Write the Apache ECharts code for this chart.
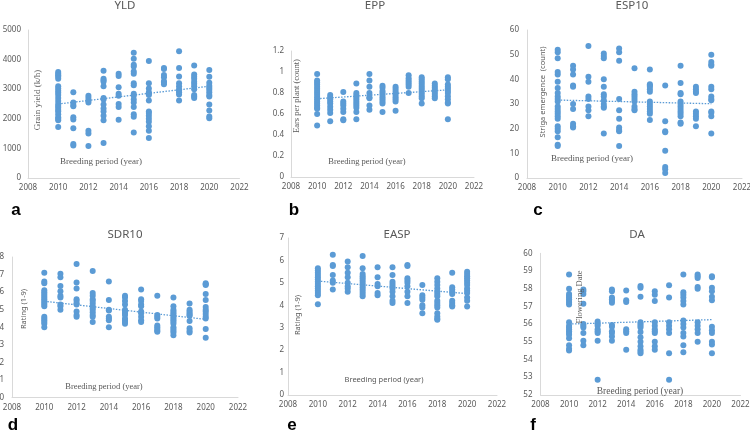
<!DOCTYPE html>
<html>
<head>
<meta charset="utf-8">
<script src="https://cdn.jsdelivr.net/npm/echarts@6/dist/echarts.min.js"></script>
<style>
  html, body { margin: 0; padding: 0; background: #fff; }
  #chart { width: 750px; height: 430px; }
</style>
</head>
<body>
<div id="chart"></div>
<script>
var years = [2010, 2011, 2012, 2013, 2014, 2015, 2016, 2017, 2018, 2019, 2020];
var trendYears = [2010, 2020];
var xTicks = { min: 2008, max: 2022, interval: 2 };

// a - YLD, grain yield
var yldValues = [
  [3580, 3520, 3470, 3420, 3350, 3100, 3020, 2950, 2880, 2800, 2700, 2600, 2500, 2430, 2370, 2300, 2250, 2150, 2050, 2000, 1950, 1720],
  [2900, 2550, 2470, 2420, 2050, 1980, 1680, 1150, 1100],
  [2780, 2700, 2620, 2550, 1600, 1500, 1080],
  [3620, 3350, 3300, 3250, 3100, 2700, 2650, 2480, 2350, 2250, 2100, 1950, 1180],
  [3520, 3450, 3070, 2850, 2780, 2500, 2400, 1970],
  [4230, 4030, 3830, 3770, 3600, 3520, 3200, 3130, 2850, 2780, 2650, 2550, 2400, 2150, 2070, 1540],
  [3950, 3200, 3020, 2900, 2850, 2800, 2620, 2250, 2200, 2100, 2000, 1900, 1750, 1600, 1350],
  [3720, 3680, 3480, 3400, 3270, 3230, 3170],
  [4280, 3720, 3430, 3200, 3100, 3000, 2950, 2900, 2820, 2620],
  [3800, 3500, 3420, 3350, 3250, 3180, 3100, 3000, 2800, 2750, 2700],
  [3650, 3420, 3220, 3120, 3050, 2980, 2900, 2800, 2750, 2480, 2280, 2080, 2020]
];
var yldTrend = [2500, 3100];

// b - EPP, ears per plant
var eppValues = [
  [0.98, 0.92, 0.90, 0.88, 0.86, 0.84, 0.82, 0.80, 0.78, 0.76, 0.74, 0.72, 0.70, 0.68, 0.66, 0.65, 0.60, 0.49],
  [0.78, 0.76, 0.74, 0.72, 0.70, 0.67, 0.64, 0.61, 0.53],
  [0.81, 0.72, 0.70, 0.68, 0.65, 0.62, 0.55, 0.54],
  [0.89, 0.80, 0.78, 0.76, 0.74, 0.72, 0.70, 0.68, 0.66, 0.62, 0.55],
  [0.98, 0.92, 0.86, 0.80, 0.76, 0.75, 0.68, 0.64],
  [0.87, 0.85, 0.82, 0.80, 0.78, 0.76, 0.74, 0.72, 0.70, 0.62],
  [0.86, 0.84, 0.82, 0.80, 0.78, 0.76, 0.74, 0.72, 0.63],
  [0.97, 0.94, 0.92, 0.90, 0.88, 0.86, 0.80],
  [0.95, 0.93, 0.91, 0.89, 0.87, 0.85, 0.83, 0.81, 0.79, 0.77, 0.75, 0.70],
  [0.89, 0.87, 0.85, 0.83, 0.81, 0.79, 0.77, 0.75],
  [0.95, 0.93, 0.88, 0.86, 0.84, 0.82, 0.80, 0.77, 0.74, 0.71, 0.70, 0.55]
];
var eppTrend = [0.745, 0.83];

// c - ESP10, striga emergence
var espValues = [
  [52, 51, 48.5, 43, 42, 39, 36.5, 34.5, 33, 32, 31, 29, 28, 27, 26, 25, 24, 21, 20, 19, 16.5, 13.5, 13],
  [45.5, 44, 42, 37.5, 37, 30, 28, 22, 21, 20.5],
  [53.5, 41, 39, 33, 32, 29, 27.5, 25],
  [50.5, 49.5, 48.5, 40, 37, 34, 33, 31.5, 30, 29, 28.5, 18],
  [52.5, 51, 47.5, 32, 27.5, 24, 20.5, 19.5, 19, 13],
  [44.5, 35, 34, 33, 32, 31, 29, 28, 27.5],
  [44, 38, 37.5, 37, 36, 35, 31, 30, 29, 28, 27, 26, 23.5],
  [37.5, 23, 19, 18.5, 11, 4.5, 3.5, 2],
  [45.5, 38.5, 34.5, 34, 31, 30, 29, 28, 27, 26, 25, 22.5, 22],
  [37, 36, 35, 34.5, 27, 26, 25, 24, 21],
  [50, 47, 46, 45.5, 37, 36, 33, 32, 31.5, 27, 26.5, 25, 18]
];
var espTrend = [31.6, 30.1];

// d - SDR10, rating
var sdrValues = [
  [7.1, 6.6, 6.5, 6.1, 6.0, 5.9, 5.8, 5.7, 5.6, 5.5, 5.4, 5.3, 5.2, 4.6, 4.5, 4.4, 4.3, 4.2, 4.0],
  [7.05, 6.85, 6.35, 6.05, 5.8, 5.7, 5.3, 5.2, 5.0],
  [7.6, 6.55, 6.2, 5.6, 5.5, 5.35, 5.3, 4.9, 4.7, 4.6],
  [7.2, 5.95, 5.8, 5.6, 5.5, 5.35, 5.2, 5.1, 5.0, 4.85, 4.7, 4.6, 4.3],
  [6.6, 5.55, 5.0, 4.95, 4.6, 4.5, 4.4, 4.0],
  [5.8, 5.7, 5.5, 5.3, 5.0, 4.9, 4.8, 4.7, 4.5, 4.4, 4.3, 4.2],
  [6.15, 5.6, 5.5, 5.3, 5.2, 4.9, 4.8, 4.6, 4.4, 4.3],
  [5.8, 4.7, 4.6, 4.5, 4.1, 4.0, 3.9, 3.8, 3.75],
  [5.7, 5.2, 5.0, 4.9, 4.8, 4.7, 4.6, 4.5, 4.4, 4.3, 4.2, 4.0, 3.9, 3.8, 3.7, 3.55],
  [5.35, 5.0, 4.9, 4.8, 4.7, 4.65, 4.35, 3.95, 3.8, 3.7],
  [6.5, 6.45, 6.4, 5.9, 5.55, 5.15, 5.0, 4.9, 4.75, 4.6, 4.5, 3.9, 3.4]
];
var sdrTrend = [5.48, 4.45];

// e - EASP, rating
var easpValues = [
  [5.65, 5.55, 5.45, 5.35, 5.25, 5.15, 5.05, 4.95, 4.85, 4.75, 4.65, 4.55, 4.45, 4.05],
  [6.25, 5.8, 5.75, 5.35, 5.1, 5.0, 4.7],
  [5.95, 5.7, 5.45, 5.25, 5.0, 4.85, 4.75, 4.6],
  [6.2, 5.65, 5.4, 5.3, 5.2, 5.1, 5.0, 4.9, 4.8, 4.7, 4.6, 4.5, 4.4],
  [5.7, 5.25, 4.95, 4.85, 4.55, 4.45],
  [5.7, 5.35, 5.05, 4.95, 4.85, 4.75, 4.6, 4.4, 4.2, 4.1],
  [5.8, 5.75, 5.2, 5.1, 5.0, 4.85, 4.6, 4.4, 4.1],
  [4.9, 4.45, 4.35, 4.25, 4.0, 3.9, 3.65],
  [5.2, 5.05, 4.9, 4.75, 4.6, 4.5, 4.4, 4.2, 4.1, 4.0, 3.9, 3.65, 3.5, 3.4, 3.35],
  [5.45, 4.8, 4.7, 4.6, 4.5, 4.2, 4.1, 4.0, 3.95],
  [5.5, 5.4, 5.3, 5.2, 5.1, 5.0, 4.9, 4.75, 4.65, 4.55, 4.35, 4.2, 3.95]
];
var easpTrend = [5.08, 4.52];

// f - DA, flowering date
var daValues = [
  [58.8, 58.0, 57.7, 57.6, 57.5, 57.4, 57.3, 57.2, 57.1, 56.1, 55.9, 55.8, 55.7, 55.6, 55.5, 55.4, 55.2, 54.8, 54.6, 54.5],
  [57.95, 57.85, 57.7, 57.15, 56.0, 55.9, 55.8, 55.5, 55.05, 54.8],
  [56.15, 56.0, 55.9, 55.7, 55.6, 55.5, 55.05, 52.85],
  [57.95, 57.85, 57.5, 57.4, 57.3, 57.2, 55.95, 55.85, 55.6, 55.5, 55.3, 55.05],
  [57.9, 57.35, 57.25, 55.7, 55.6, 55.5, 54.55],
  [58.15, 58.05, 57.55, 56.1, 56.0, 55.9, 55.8, 55.55, 55.25, 55.0, 54.75, 54.55, 54.45, 54.35],
  [57.85, 57.65, 57.3, 56.1, 55.9, 55.7, 55.6, 55.5, 55.0, 54.75, 54.55],
  [58.2, 57.5, 56.1, 55.9, 55.7, 55.5, 54.35, 52.85],
  [58.8, 57.8, 57.65, 57.5, 57.3, 57.1, 56.2, 56.0, 55.8, 55.5, 55.3, 54.8, 54.4],
  [58.8, 58.7, 58.6, 58.1, 58.0, 56.1, 55.9, 55.7, 55.5, 55.0],
  [58.7, 58.65, 58.05, 57.85, 57.55, 57.35, 55.85, 55.65, 55.5, 55.0, 54.85, 54.35]
];
var daTrend = [56.0, 56.25];

var titles = ['YLD', 'EPP', 'ESP10', 'SDR10', 'EASP', 'DA'];
var letters = ['a', 'b', 'c', 'd', 'e', 'f'];
var yNames = ['Grain yield (k/h)', 'Ears per plant (count)', 'Striga emergence  (count)', 'Rating (1-9)', 'Rating (1-9)', 'Flowering Date'];
var xName = 'Breeding period (year)';
var yRanges = [[0, 5000, 1000], [0, 1.2, 0.2], [0, 60, 10], [0, 8, 1], [0, 7, 1], [52, 60, 1]];
var allValues = [yldValues, eppValues, espValues, sdrValues, easpValues, daValues];
var allTrends = [yldTrend, eppTrend, espTrend, sdrTrend, easpTrend, daTrend];

var blue = '#5b9bd5';
var gray = '#595959';
var serif = '"Liberation Serif", "DejaVu Serif", serif';
var sans = '"Noto Sans", "Liberation Sans", sans-serif';

// layout of each panel (pixels)
var grids = [
  { left: 28, top: 30, width: 211.5, height: 148 },
  { left: 291, top: 51, width: 183, height: 126 },
  { left: 527, top: 30, width: 215, height: 148 },
  { left: 12, top: 257, width: 226, height: 140.5 },
  { left: 288, top: 238, width: 209, height: 157 },
  { left: 540.5, top: 253.3, width: 200, height: 141.5 }
];
var titlePos = [[125, 0], [375, 0], [632, 0], [125, 229], [397, 229], [637, 229]];
var letterPos = [[16, 210], [294, 210], [538, 210], [13, 425], [292, 425], [533, 425]];
var yNamePos = [[38, 100, serif, 9], [297, 96, serif, 8.5], [543, 92, sans, 7.5], [24, 309, sans, 7.5], [298, 315, sans, 7.5], [580, 297, serif, 8.5]];
var xNamePos = [[101, 162, serif, 9], [367, 162, serif, 8.5], [592, 159, serif, 9], [104, 387, serif, 8.5], [384, 380, sans, 7.5], [640, 391, serif, 9.5]];
var yLabelMargin = [7, 7, 8, 8, 4, 8];

function toPoints (values) {
  var pts = [];
  values.forEach(function (col, i) {
    col.forEach(function (v) {
      pts.push([years[i], v]);
    });
  });
  return pts;
}

function plainNumber (v) {
  return String(+v.toFixed(4));
}

var xAxes = [];
var yAxes = [];
var series = [];
var titleList = [];
var graphics = [];

for (var i = 0; i < 6; i++) {
  xAxes.push({
    type: 'value',
    gridIndex: i,
    min: xTicks.min,
    max: xTicks.max,
    interval: xTicks.interval,
    axisLine: { show: true, lineStyle: { color: '#d9d9d9', width: 1 } },
    axisTick: { show: false },
    splitLine: { show: false },
    axisLabel: { color: gray, fontSize: 8, fontFamily: sans, margin: 6, formatter: plainNumber, showMinLabel: true, showMaxLabel: true, hideOverlap: false }
  });
  yAxes.push({
    type: 'value',
    gridIndex: i,
    min: yRanges[i][0],
    max: yRanges[i][1],
    interval: yRanges[i][2],
    axisLine: { show: true, lineStyle: { color: '#d9d9d9', width: 1 } },
    axisTick: { show: false },
    splitLine: { show: false },
    axisLabel: { color: gray, fontSize: 8, fontFamily: sans, margin: yLabelMargin[i], formatter: plainNumber, showMinLabel: true, showMaxLabel: true, hideOverlap: false }
  });
  series.push({
    type: 'scatter',
    xAxisIndex: i,
    yAxisIndex: i,
    data: toPoints(allValues[i]),
    symbolSize: 6,
    itemStyle: { color: blue, opacity: 1 },
    z: 2
  });
  series.push({
    type: 'line',
    xAxisIndex: i,
    yAxisIndex: i,
    data: [[trendYears[0], allTrends[i][0]], [trendYears[1], allTrends[i][1]]],
    showSymbol: false,
    silent: true,
    lineStyle: { color: blue, width: 1.3, type: [1.5, 1.5] },
    z: 3
  });
  titleList.push({
    text: titles[i],
    left: titlePos[i][0],
    top: titlePos[i][1],
    textAlign: 'center',
    padding: 0,
    textStyle: { color: gray, fontSize: 11.5, fontWeight: 'normal', fontFamily: sans }
  });
  graphics.push({
    type: 'text',
    x: letterPos[i][0],
    y: letterPos[i][1],
    style: { text: letters[i], fontSize: 17, fontWeight: 'bold', fontFamily: '"Liberation Sans", Arial, sans-serif', fill: '#000', align: 'center', verticalAlign: 'middle' }
  });
  graphics.push({
    type: 'text',
    x: yNamePos[i][0],
    y: yNamePos[i][1],
    rotation: Math.PI / 2,
    style: { text: yNames[i], fontSize: yNamePos[i][3], fontFamily: yNamePos[i][2], fill: gray, align: 'center', verticalAlign: 'middle' },
    z: 10
  });
  graphics.push({
    type: 'text',
    x: xNamePos[i][0],
    y: xNamePos[i][1],
    style: { text: xName, fontSize: xNamePos[i][3], fontFamily: xNamePos[i][2], fill: gray, align: 'center', verticalAlign: 'middle' },
    z: 10
  });
}

var chart = echarts.init(document.getElementById('chart'), null, { renderer: 'canvas' });
chart.setOption({
  animation: false,
  backgroundColor: '#fff',
  title: titleList,
  grid: grids.map(function (g) {
    return { left: g.left, top: g.top, width: g.width, height: g.height, containLabel: false, outerBoundsMode: 'none' };
  }),
  xAxis: xAxes,
  yAxis: yAxes,
  series: series,
  graphic: graphics
});
</script>
</body>
</html>
